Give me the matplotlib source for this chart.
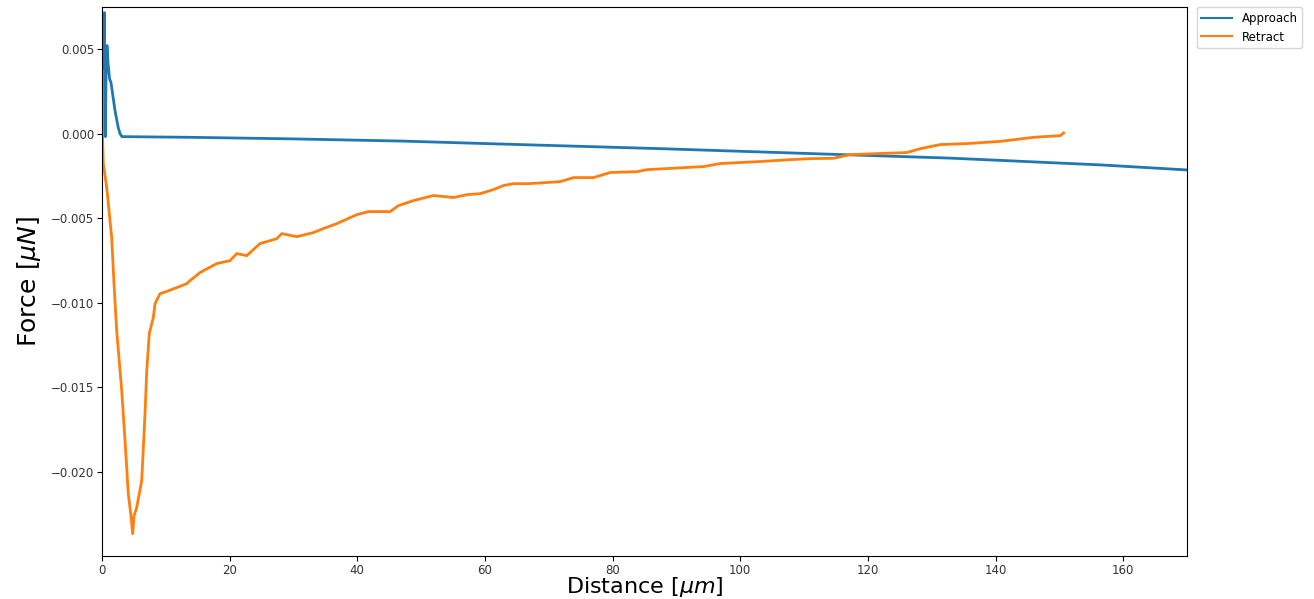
import matplotlib
matplotlib.use("Agg")
import matplotlib.pyplot as plt

# Approach curve (distance in um, force in uN)
approach_x = [0.05, 0.20, 0.36, 0.44, 0.52, 0.63, 0.78, 0.94, 1.18, 1.41, 2.04, 2.51, 2.82, 3.13,
              13.79, 29.47, 46.71, 65.52, 87.46, 112.54, 132.92, 156.43, 170.06]
approach_f = [0.0, 0.00431, 0.00715, 0.00195, -0.00018, 0.00343, 0.00520, 0.00420, 0.00325, 0.00301,
              0.00136, 0.00041, 0.0, -0.00018,
              -0.00022, -0.00031, -0.00044, -0.00065, -0.00089, -0.00120, -0.00145, -0.00185, -0.00215]

# Retract curve
retract_x = [0.03, 0.08, 0.20, 0.74, 1.52, 1.88, 2.30, 3.09, 3.61, 4.12, 4.50, 4.81, 5.02, 5.44,
             6.22, 6.74, 7.01, 7.41, 8.04, 8.31, 9.09, 10.03, 11.71, 13.28, 13.79, 15.36, 17.98,
             20.06, 21.11, 22.68, 24.76, 27.38, 28.17, 30.52, 33.12, 34.69, 36.79, 39.92, 41.74,
             45.14, 46.44, 48.79, 51.93, 55.06, 57.16, 59.25, 61.33, 62.90, 64.47, 66.82, 71.79,
             73.87, 77.01, 79.62, 83.81, 85.38, 94.25, 96.87, 103.13, 107.84, 110.97, 114.62,
             117.24, 126.13, 128.21, 131.35, 135.53, 140.75, 145.97, 150.16, 150.67]
retract_f = [0.00372, 0.0, -0.00177, -0.00319, -0.00615, -0.00887, -0.01164, -0.01519, -0.01814,
             -0.02128, -0.02246, -0.02364, -0.02258, -0.02210, -0.02051, -0.01655, -0.01401,
             -0.01182, -0.01087, -0.01005, -0.00946, -0.00934, -0.00910, -0.00887, -0.00869,
             -0.00821, -0.00768, -0.00751, -0.00709, -0.00721, -0.00650, -0.00621, -0.00591,
             -0.00609, -0.00585, -0.00561, -0.00532, -0.00479, -0.00461, -0.00461, -0.00426,
             -0.00396, -0.00366, -0.00378, -0.00361, -0.00355, -0.00331, -0.00307, -0.00296,
             -0.00296, -0.00284, -0.00260, -0.00260, -0.00230, -0.00225, -0.00213, -0.00195,
             -0.00177, -0.00165, -0.00154, -0.00148, -0.00146, -0.00124, -0.00112, -0.00089,
             -0.00065, -0.00059, -0.00046, -0.00022, -0.00012, 0.00004]


def main():
    fig = plt.figure(figsize=(13.14, 5.99), dpi=100)
    ax = fig.add_axes([102 / 1314, 1 - 556 / 599, (1187 - 102) / 1314, (556 - 7) / 599])

    ax.plot(approach_x, approach_f, color="#1f77b4", lw=2.0, label="Approach")
    ax.plot(retract_x, retract_f, color="#ff7f0e", lw=2.0, label="Retract")

    ax.set_xlim(0, 170)
    ax.set_ylim(-0.02496, 0.00748)
    ax.set_xlabel(r"Distance [$\mu m$]", fontsize=16, labelpad=-1.5)
    ax.set_ylabel(r"Force [$\mu N$]", fontsize=18, labelpad=6)
    ax.tick_params(labelsize=8.5, pad=2)
    ax.tick_params(colors="black", labelcolor="#333333")
    leg = ax.legend(loc="upper left", bbox_to_anchor=(1.009, 1.0), borderaxespad=0, fontsize=8.5,
                    handlelength=2.6)
    for line in leg.get_lines():
        line.set_linewidth(1.5)

    fig.savefig("out.png", dpi=100)


if __name__ == "__main__":
    main()
